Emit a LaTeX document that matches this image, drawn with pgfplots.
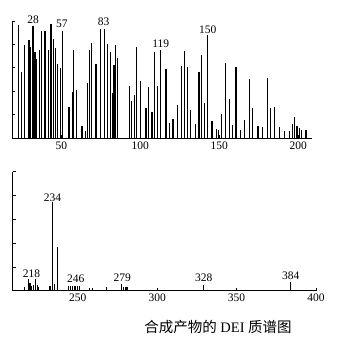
\documentclass[border=0pt]{standalone}
\usepackage{pgfplots}
\pgfplotsset{compat=1.18}
\usepackage{pgfplotstable}
\usepackage{fontspec}
\setmainfont{Liberation Serif}
\newfontfamily\cjk{Noto Sans CJK SC}

\pgfplotstableread{
mz inten
23.0 96.3
24.7 56.7
26.6 79.9
29.6 83.6
30.8 77.9
32.1 95.5
33.4 73.7
34.6 67.1
36.1 75.1
37.5 91.5
39.7 91.5
42.0 75.1
43.5 97.2
45.1 85.0
46.4 76.5
47.7 63.2
49.4 60.1
50.6 91.5
54.9 26.3
57.2 39.7
57.8 75.6
59.9 41.1
63.1 10.5
65.6 5.7
66.6 46.7
67.9 75.6
69.4 81.3
72.0 62.9
74.7 93.5
77.4 93.5
79.3 80.7
81.0 73.7
82.5 38.2
83.4 62.3
84.6 79.3
85.6 68.0
93.0 44.5
94.3 31.2
96.2 36.8
97.9 77.9
100.0 49.0
103.6 25.5
105.3 43.3
107.4 21.8
109.1 73.1
110.9 44.5
112.7 75.1
116.3 58.9
118.4 12.7
120.7 16.4
123.6 28.3
126.1 61.5
128.0 74.5
129.9 60.3
131.6 24.1
134.8 12.2
137.2 56.7
138.6 70.8
140.9 30.3
142.4 87.8
145.4 14.2
148.1 7.6
149.8 6.5
151.7 20.7
153.7 63.7
156.3 33.4
158.4 11.3
160.6 60.9
163.3 6.5
166.0 15.6
169.0 50.4
171.3 25.5
174.5 9.9
177.4 9.1
180.8 51.6
182.7 25.5
185.0 26.1
188.0 9.1
191.1 5.7
194.5 5.7
196.4 12.2
197.7 17.8
199.2 10.5
200.8 8.5
202.3 7.1
204.9 6.5
}\topdata

\pgfplotstableread{
mz inten
216.8 3.4
218.9 9.5
220.0 6.7
221.0 3.9
222.0 4.8
223.6 9.5
224.6 4.8
225.6 3.4
232.6 4.2
234.0 74.2
235.3 6.0
237.4 36.4
244.1 4.2
245.6 4.2
246.8 4.2
248.3 4.2
249.7 4.2
251.4 4.2
257.7 2.5
259.2 2.5
268.2 3.4
277.7 5.6
279.1 3.4
280.4 2.8
281.6 2.8
329.0 5.0
384.0 7.0
}\botdata

\begin{document}
\begin{tikzpicture}
\path[use as bounding box] (0,0) rectangle (341pt,344pt);
\pgfplotsset{every axis/.append style={
  scale only axis, clip=false,
  axis x line=bottom, axis y line=left,
  axis line style={-, line width=0.8pt, black},
  ymin=0, ymax=100, ytick={0,20,...,100}, yticklabels={,,,,,},
  tick align=inside, major tick length=3pt,
  tick style={black, line width=0.6pt},
  /pgf/number format/assume math mode=true,
  tick label style={font=\fontsize{11.5}{12}\selectfont},
}}
\tikzset{lab/.style={font=\fontsize{11.5}{12}\selectfont, inner sep=0pt, anchor=center}}

% top panel
\begin{axis}[at={(12.3pt,206pt)}, anchor=south west,
  width=300pt, height=117pt,
  xmin=19, xmax=208.9, xtick={50,100,150,200}]
\addplot[ycomb, black, line width=1.1pt, mark=none] table[x=mz,y=inten]{\topdata};
\node[lab] at (axis cs:32.2,101.5) {28};
\node[lab] at (axis cs:50.4,97.3) {57};
\node[lab] at (axis cs:76.8,99.4) {83};
\node[lab] at (axis cs:113.0,80.8) {119};
\node[lab] at (axis cs:142.7,92.7) {150};
\end{axis}

% bottom panel
\begin{axis}[at={(12.7pt,53.3pt)}, anchor=south west,
  width=304.3pt, height=119pt,
  xmin=209.1, xmax=400.6, xtick={250,300,350,400}]
\addplot[ycomb, black, line width=1.1pt, mark=none] table[x=mz,y=inten]{\botdata};
\node[lab] at (axis cs:221.0,14.0) {218};
\node[lab] at (axis cs:234.1,78.3) {234};
\node[lab] at (axis cs:248.8,10.4) {246};
\node[lab] at (axis cs:278.1,11.3) {279};
\node[lab] at (axis cs:329.3,10.9) {328};
\node[lab] at (axis cs:384.1,12.4) {384};
\end{axis}

\node[font=\fontsize{14.5}{16}\selectfont, inner sep=0pt] at (218pt,17pt) {{\cjk 合成产物的} DEI {\cjk 质谱图}};
\end{tikzpicture}
\end{document}
